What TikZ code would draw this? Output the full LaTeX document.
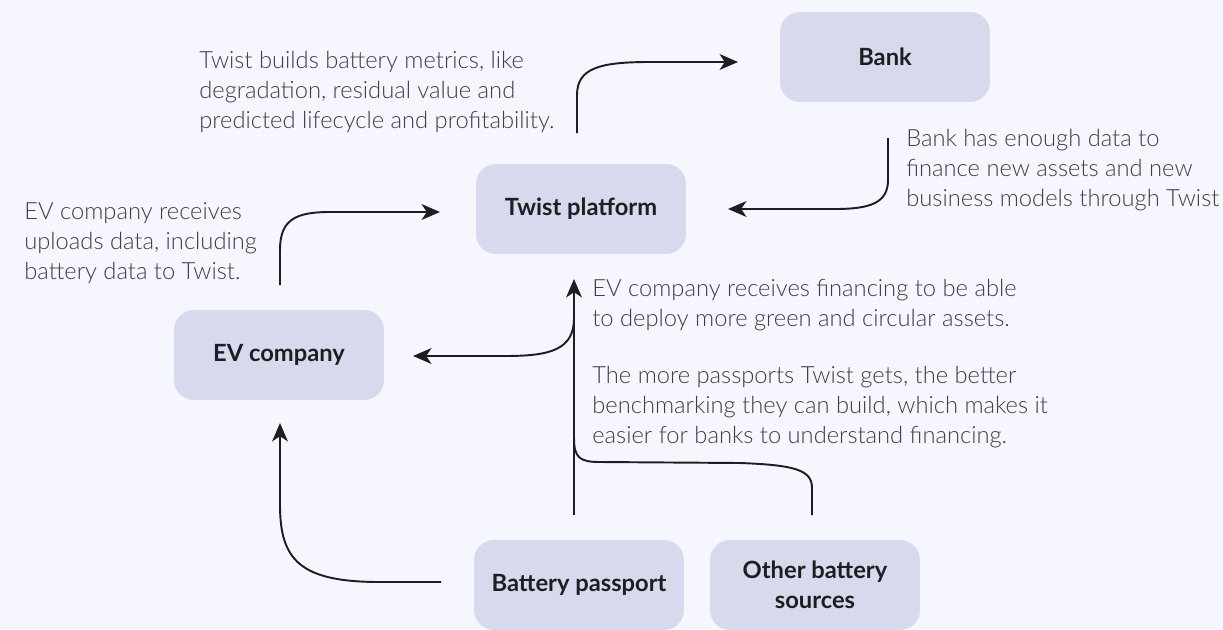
\documentclass[tikz,border=0pt]{standalone}
\usepackage{fontspec}
\setmainfont{Lato}
\newfontfamily\notefont{Lato Light}
\usetikzlibrary{arrows.meta}
\definecolor{bg}{HTML}{F5F6FE}
\definecolor{boxc}{HTML}{D6DAEC}
\definecolor{txt}{HTML}{1E1E22}
\definecolor{notec}{HTML}{3E3E44}
\begin{document}
\begin{tikzpicture}[x=0.02cm,y=-0.02cm,
 box/.style={fill=boxc, rounded corners=0.4cm, minimum width=4.2cm, minimum height=1.8cm,
   font=\bfseries\fontsize{13.5}{17}\selectfont, text=txt, align=center, inner sep=0pt},
 note/.style={anchor=north west, align=left, text=notec, font=\notefont\fontsize{13.5}{17.07}\selectfont, inner sep=0pt},
 conn/.style={line width=1.1pt, draw=txt, -{Stealth[length=10.5pt,width=9pt,inset=3pt]}},
 link/.style={line width=1.1pt, draw=txt}]
\fill[bg] (0,0) rectangle (1223,629);
\useasboundingbox (0,0) rectangle (1223,629);

% boxes
\node[box] (bank) at (885,57) {Bank};
\node[box] (twist) at (581,209) {Twist platform};
\node[box] (ev) at (279,355) {EV company};
\node[box] (bp) at (579,585) {Battery passport};
\node[box] (other) at (815,585) {Other battery\\sources};

% notes
\node[note] (n1) at (199,51) {Twist builds battery metrics, like\\degradation, residual value and\\predicted lifecycle and profitability.};
\node[note] (n2) at (906,129) {Bank has enough data to\\finance new assets and new\\business models through Twist};
\node[note] (n3) at (24,202) {EV company receives\\uploads data, including\\battery data to Twist.};
\node[note] (n4) at (592,279) {EV company receives financing to be able\\to deploy more green and circular assets.};
\node[note] (n5) at (592,366) {The more passports Twist gets, the better\\benchmarking they can build, which makes it\\easier for banks to understand financing.};

% coordinates
\coordinate (a1s) at (577,133);
\coordinate (a1e) at (738,62);
\coordinate (a2s) at (888,138);
\coordinate (a2e) at (728,209);
\coordinate (a3s) at (280,285);
\coordinate (a3e) at (440,212);
\coordinate (a4s) at (574,515);
\coordinate (a4e) at (574,279);
\coordinate (a4b) at (574,300);
\coordinate (a5e) at (413,356);
\coordinate (a6s) at (812,515);
\coordinate (a6j) at (574,438);
\coordinate (a7s) at (441,582);
\coordinate (a7e) at (280,423);

% connectors
\draw[conn] (a1s) -- (577,95) .. controls (577,68) and (600,62) .. (650,62) -- (a1e);
\draw[conn] (a2s) -- (888,180) .. controls (888,203) and (870,209) .. (835,209) -- (a2e);
\draw[conn] (a3s) -- (280,250) .. controls (280,220) and (295,212) .. (330,212) -- (a3e);
\draw[conn] (a4s) -- (a4e);
\draw[conn] (a4b) -- (574,318) .. controls (574,350) and (550,356) .. (505,356) -- (a5e);
\draw[link] (a6s) -- (812,488) .. controls (812,470) and (795,465) .. (740,463) -- (600,462) .. controls (580,462) and (574,458) .. (a6j);
\draw[conn] (a7s) -- (380,582) .. controls (300,582) and (280,560) .. (280,505) -- (a7e);
\end{tikzpicture}
\end{document}
